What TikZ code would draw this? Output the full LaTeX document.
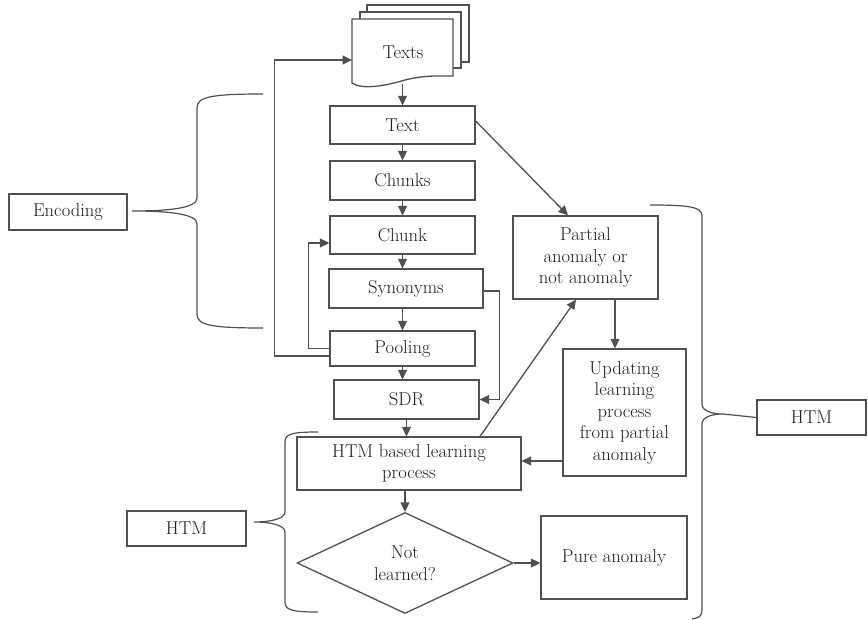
\documentclass[tikz,border=0pt]{standalone}
\usetikzlibrary{arrows.meta,shapes.geometric,calc}
\definecolor{ln}{RGB}{80,80,80}
\definecolor{tx}{RGB}{30,30,30}
\begin{document}
\begin{tikzpicture}[x=1pt,y=-1pt,
  line width=1.3pt,
  every node/.style={text=tx,font=\fontsize{18.6}{21.5}\selectfont},
  box/.style={draw=ln,rectangle,inner sep=2pt,align=center},
  arr/.style={draw=ln,-{Triangle[length=9.5pt,width=9pt]}},
  brace/.style={draw=ln,line width=1.2pt}]
\useasboundingbox (0,0) rectangle (868,620);
% document stack
\filldraw[draw=ln,fill=white] (367,5) rectangle (469,62);
\filldraw[draw=ln,fill=white] (360,12) rectangle (461,68);
\filldraw[draw=ln,fill=white] (352,19) -- (453,19) -- (453,76)
  .. controls (440,76) and (425,75) .. (405,80)
  .. controls (385,86) and (362,90) .. (352,83) -- cycle;
\node (texts) at (403,52) {Texts};
\coordinate (textsB) at (402.5,84);
\coordinate (textsW) at (352,60);
% main column
\node[box,minimum width=145pt,minimum height=38pt] (text) at (402.5,125) {Text};
\node[box,minimum width=145pt,minimum height=39pt] (chunks) at (402.5,180.5) {Chunks};
\node[box,minimum width=145pt,minimum height=38pt] (chunk) at (402.5,235) {Chunk};
\node[box,minimum width=154pt,minimum height=39pt] (synonyms) at (406,288.5) {Synonyms};
\node[box,minimum width=145pt,minimum height=35pt] (pooling) at (402.5,348.5) {Pooling};
\node[box,minimum width=145pt,minimum height=39pt] (sdr) at (406.5,399.5) {SDR};
\node[box,minimum width=224pt,minimum height=53pt] (learn) at (409,463.5) {HTM based learning\\process};
\node[draw=ln,diamond,inner sep=0pt,minimum width=216pt,minimum height=101pt,align=center] (notl) at (405,563) {Not\\learned?};
% right column
\node[box,minimum width=145pt,minimum height=83pt] (partial) at (585.5,257.5) {Partial\\anomaly or\\not anomaly};
\node[box,minimum width=123pt,minimum height=127pt] (upd) at (624.5,412.5) {Updating\\learning\\process\\from partial\\anomaly};
\node[box,minimum width=146pt,minimum height=83pt] (pure) at (614,557.5) {Pure anomaly};
% labels
\node[box,minimum width=118pt,minimum height=36pt] (enc) at (68,212) {Encoding};
\node[box,minimum width=119pt,minimum height=35pt] (htmL) at (186.5,528.5) {HTM};
\node[box,minimum width=109pt,minimum height=35pt] (htmR) at (811.5,417.5) {HTM};
% connectors
\draw[arr] (textsB) -- (textsB |- text.north);
\draw[arr] (text.south) -- (text.south |- chunks.north);
\draw[arr] (chunks.south) -- (chunks.south |- chunk.north);
\draw[arr] (chunk.south) -- (chunk.south |- synonyms.north);
\draw[arr] (pooling.north |- synonyms.south) -- (pooling.north);
\draw[arr] (pooling.south) -- (pooling.south |- sdr.north);
\draw[arr] (sdr.south) -- (sdr.south |- learn.north);
\draw[arr] (notl.north |- learn.south) -- (notl.north);
\draw[arr] (pooling.west) -- ++(-21,0) |- ([yshift=-8pt]chunk.west);
\draw[arr] ([yshift=-7.5pt]pooling.west) -- ++(-55,0) |- (textsW);
\draw[arr] ([yshift=-2.5pt]synonyms.east) -- ++(16,0) |- (sdr.east);
\draw[arr] ([yshift=4pt]text.east) -- ([xshift=-17.5pt]partial.north);
\draw[arr] ([xshift=29.5pt]partial.south) -- ([xshift=29.5pt]partial.south |- upd.north);
\draw[arr] ([yshift=-48.5pt]upd.west) -- ([yshift=-48.5pt]upd.west -| learn.east);
\draw[arr] ([xshift=71pt]learn.north) -- ([xshift=-9.5pt]partial.south);
\draw[arr] (notl.east) -- (notl.east -| pure.west);
% braces
\draw[brace] (263,94) .. controls (210,94) and (197,97) .. (197,108) -- (197,198)
  .. controls (197,208) and (170,211) .. (132,211)
  .. controls (170,211) and (197,214) .. (197,224) -- (197,314)
  .. controls (197,325) and (210,328) .. (263,328);
\draw[brace] (318,432) .. controls (292,432) and (285,434) .. (285,442) -- (285,512)
  .. controls (285,519) and (270,522) .. (254,522)
  .. controls (270,522) and (285,525) .. (285,532) -- (285,602)
  .. controls (285,610) and (292,612) .. (318,612);
\coordinate (tipR) at (723,414);
\draw[brace] (650,205) .. controls (690,205) and (702,207) .. (702,216) -- (702,404)
  .. controls (702,411) and (712,414) .. (tipR)
  .. controls (712,414) and (702,417) .. (702,424) -- (702,610)
  .. controls (702,616) and (699,618) .. (692,619);
\draw[brace] (tipR) -- (htmR.west);
\end{tikzpicture}
\end{document}
